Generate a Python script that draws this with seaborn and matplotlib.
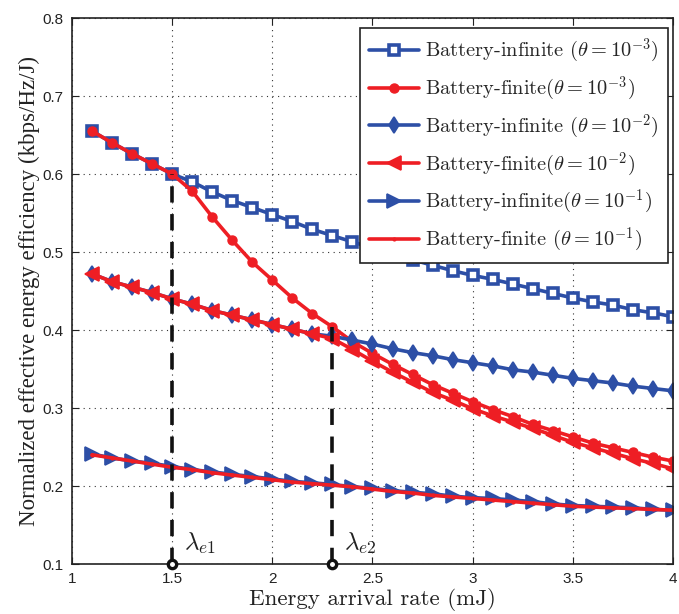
import numpy as np
import pandas as pd
import matplotlib
matplotlib.use("Agg")
import matplotlib.pyplot as plt
import seaborn as sns

# Energy arrival rate grid (mJ)
arrival_rate = [round(v / 10, 1) for v in range(11, 41)]

# Normalized effective energy efficiency (kbps/Hz/J)
inf_theta3 = [0.655, 0.640, 0.626, 0.613, 0.600, 0.590, 0.577, 0.566, 0.557, 0.548,
              0.539, 0.529, 0.521, 0.513, 0.505, 0.498, 0.490, 0.483, 0.476, 0.470,
              0.465, 0.459, 0.453, 0.447, 0.441, 0.436, 0.432, 0.426, 0.422, 0.417]
fin_theta3 = [0.655, 0.640, 0.626, 0.613, 0.600, 0.578, 0.545, 0.515, 0.487, 0.464,
              0.441, 0.421, 0.404, 0.385, 0.370, 0.356, 0.343, 0.330, 0.319, 0.308,
              0.298, 0.289, 0.279, 0.271, 0.263, 0.255, 0.249, 0.243, 0.237, 0.232]
inf_theta2 = [0.472, 0.462, 0.455, 0.448, 0.440, 0.433, 0.425, 0.419, 0.413, 0.407,
              0.401, 0.395, 0.392, 0.387, 0.382, 0.376, 0.371, 0.367, 0.362, 0.358,
              0.354, 0.349, 0.346, 0.342, 0.338, 0.335, 0.332, 0.328, 0.325, 0.322]
fin_theta2 = [0.472, 0.462, 0.455, 0.448, 0.440, 0.433, 0.425, 0.419, 0.413, 0.407,
              0.401, 0.395, 0.389, 0.375, 0.360, 0.346, 0.333, 0.320, 0.310, 0.299,
              0.290, 0.282, 0.274, 0.265, 0.256, 0.249, 0.242, 0.235, 0.229, 0.222]
inf_theta1 = [0.241, 0.236, 0.232, 0.229, 0.225, 0.221, 0.218, 0.215, 0.212, 0.209,
              0.206, 0.204, 0.202, 0.199, 0.197, 0.194, 0.192, 0.190, 0.187, 0.185,
              0.184, 0.182, 0.180, 0.177, 0.175, 0.174, 0.173, 0.172, 0.170, 0.169]
fin_theta1 = [0.240, 0.236, 0.232, 0.228, 0.224, 0.221, 0.217, 0.214, 0.211, 0.208,
              0.205, 0.203, 0.201, 0.199, 0.196, 0.193, 0.191, 0.188, 0.186, 0.184,
              0.182, 0.180, 0.178, 0.176, 0.174, 0.173, 0.172, 0.171, 0.170, 0.169]

series_labels = [
    r"Battery-infinite ($\theta = 10^{-3}$)",
    r"Battery-finite($\theta = 10^{-3}$)",
    r"Battery-infinite ($\theta = 10^{-2}$)",
    r"Battery-finite($\theta = 10^{-2}$)",
    r"Battery-infinite($\theta = 10^{-1}$)",
    r"Battery-finite ($\theta = 10^{-1}$)",
]

# Threshold arrival rates
threshold_x = [1.5, 2.3]
threshold_labels = [r"$\lambda_{e1}$", r"$\lambda_{e2}$"]

x_ticks = [1, 1.5, 2, 2.5, 3, 3.5, 4]
x_tick_labels = ["1", "1.5", "2", "2.5", "3", "3.5", "4"]
y_ticks = [0.1, 0.2, 0.3, 0.4, 0.5, 0.6, 0.7, 0.8]
y_tick_labels = ["0.1", "0.2", "0.3", "0.4", "0.5", "0.6", "0.7", "0.8"]

sns.set_theme(style="ticks")
plt.rcParams["mathtext.fontset"] = "cm"
plt.rcParams["axes.unicode_minus"] = False

BLUE = "#2D4FA6"
RED = "#EE1E24"

fig = plt.figure(figsize=(6.79, 6.14), dpi=100)
ax = fig.add_axes([72 / 679, 1 - 564 / 614, 601 / 679, 546 / 614])

styles = [
    dict(color=BLUE, marker="s", ms=7.5, mfc="white", mec=BLUE, mew=2.6),
    dict(color=RED, marker="o", ms=6.5, mfc=RED, mec=RED, mew=1.0),
    dict(color=BLUE, marker="d", ms=8.5, mfc=BLUE, mec=BLUE, mew=1.2),
    dict(color=RED, marker="<", ms=9.5, mfc=RED, mec=RED, mew=1.2),
    dict(color=BLUE, marker=">", ms=9.5, mfc=BLUE, mec=BLUE, mew=1.2),
    dict(color=RED, marker=".", ms=4, mfc=RED, mec=RED, mew=1),
]
all_series = [inf_theta3, fin_theta3, inf_theta2, fin_theta2, inf_theta1, fin_theta1]

for vals, lab, st in zip(all_series, series_labels, styles):
    df = pd.DataFrame({"rate": arrival_rate, "ee": vals})
    sns.lineplot(data=df, x="rate", y="ee", ax=ax, lw=2.6, label=lab, **st)

# Threshold markers: dashed drops from the finite-battery curve to the axis
lookup = dict(zip(arrival_rate, fin_theta3))
for xt, lt in zip(threshold_x, threshold_labels):
    ax.plot([xt, xt], [0.1, lookup[xt]], color="#111111", ls=(0, (4.5, 3.2)), lw=2.6,
            zorder=5)
    ax.plot([xt], [0.1], marker="o", ms=6, mfc="white", mec="#111111", mew=2.4,
            clip_on=False, zorder=6)
    ax.text(xt + 0.06, 0.110, lt, fontsize=18, color="#222222", ha="left",
            va="bottom")

ax.set_xlim(1, 4)
ax.set_ylim(0.1, 0.8)
ax.set_xticks(x_ticks)
ax.set_xticklabels(x_tick_labels, family="Liberation Sans", fontsize=11)
ax.set_yticks(y_ticks)
ax.set_yticklabels(y_tick_labels, family="Liberation Sans", fontsize=11)
ax.tick_params(direction="in", length=5, width=0.8, top=True, right=True,
               colors="#222222", pad=6)
ax.grid(True, ls=(0, (1, 4)), color="#333333", lw=0.8)
for sp in ax.spines.values():
    sp.set_color("#222222")
    sp.set_linewidth(1.2)

ax.set_xlabel("Energy arrival rate (mJ)", family="cmr10", fontsize=16.5,
              color="#222222", labelpad=1.5)
ax.set_ylabel("Normalized effective energy efficiency (kbps/Hz/J)",
              family="Liberation Serif", fontsize=16.5, color="#222222", labelpad=2)

leg = ax.legend(loc="upper right", bbox_to_anchor=(0.9917, 0.9817), borderaxespad=0,
                frameon=True, fancybox=False, edgecolor="#222222", framealpha=1,
                prop={"family": "cmr10", "size": 14.7}, handlelength=2.45,
                labelspacing=0.47, borderpad=0.45, handletextpad=0.3)
leg.get_frame().set_linewidth(1.2)

fig.savefig("out.png", dpi=100)
